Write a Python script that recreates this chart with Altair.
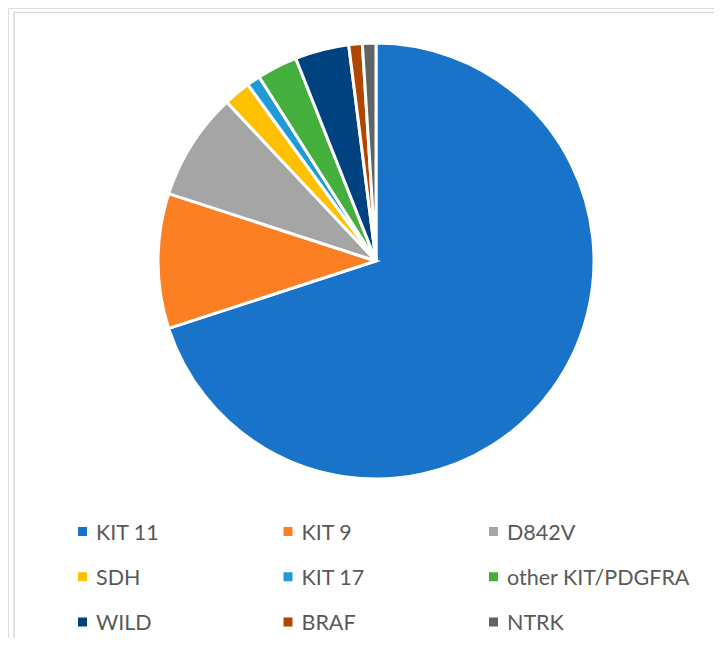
import altair as alt
import pandas as pd

categories = ["KIT 11", "KIT 9", "D842V", "SDH", "KIT 17",
              "other KIT/PDGFRA", "WILD", "BRAF", "NTRK"]
values = [70, 10, 8, 2, 1, 3, 4, 1, 1]
colors = ["#1873C9", "#FD7F24", "#A5A5A5", "#FFC000", "#1E9BD7",
          "#44AF3D", "#00427F", "#B24600", "#636363"]

df = pd.DataFrame({"category": categories, "value": values})
df["idx"] = range(len(df))
df["col"] = df["idx"] % 3
df["row"] = df["idx"] // 3

color = alt.Color("category:N", scale=alt.Scale(domain=categories, range=colors), legend=None)
base = alt.Chart(df)

pie = base.mark_arc(radius=218, stroke="white", strokeWidth=3).encode(
    theta=alt.Theta("value:Q", stack=True),
    order=alt.Order("idx:Q"),
    color=color,
    x=alt.value(368),
    y=alt.value(253),
)

xs = alt.X("col:Q", scale=alt.Scale(domain=[0, 2], range=[74.5, 485.5]), axis=None)
ys = alt.Y("row:Q", scale=alt.Scale(domain=[0, 2], range=[523.5, 614]), axis=None)

squares = base.mark_point(shape="square", filled=True, size=81, opacity=1).encode(
    x=xs, y=ys, color=color
)
labels = base.mark_text(align="left", baseline="middle", dx=13.5, dy=2, fontSize=21.5,
                        font="Lato", color="#595959").encode(
    x=xs, y=ys, text="category:N"
)

frame_top = alt.Chart(pd.DataFrame({"a": [0]})).mark_rule(color="#D9D9D9", strokeWidth=1.5).encode(
    x=alt.value(6), x2=alt.value(706), y=alt.value(4.5)
)
frame_left = alt.Chart(pd.DataFrame({"a": [0]})).mark_rule(color="#D9D9D9", strokeWidth=1.5).encode(
    x=alt.value(6), y=alt.value(4.5), y2=alt.value(630)
)

chart = alt.layer(frame_top, frame_left, pie, squares, labels).properties(
    width=706, height=630,
    autosize=alt.AutoSizeParams(type="none"),
    padding=0,
).configure_view(stroke="transparent", strokeWidth=0).configure(background="transparent")

chart.save("out.html", embed_options={"renderer": "svg", "actions": False})
